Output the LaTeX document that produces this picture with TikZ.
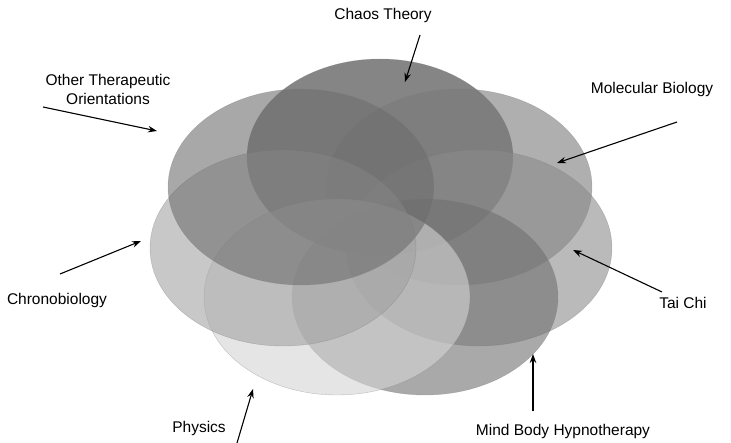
\documentclass[tikz,border=0pt]{standalone}
\usepackage{fontspec}
\setmainfont{Liberation Sans}
\usetikzlibrary{arrows.meta,positioning,shapes.geometric}
\tikzset{
    blob/.style={ellipse,draw=gray,draw opacity=0.45,thin,inner sep=0pt,outer sep=0pt,
                 minimum width=266pt,minimum height=196pt,fill opacity=0.6},
    tag/.style={font=\fontsize{15.5}{19}\selectfont,align=center,inner sep=0pt},
    pre/.style={-{Stealth[length=9pt,width=6.5pt]},line width=1.1pt}
}

\begin{document}
\begin{tikzpicture}[x=1pt,y=-1pt]
    \useasboundingbox (0,0) rectangle (731,443);

    % the seven fields, first one at the bottom
    \node[blob,fill=black!80] (chaos)     at (380,157) {};
    \node[blob,fill=black!52] (molecular) at (459,187) {};
    \node[blob,fill=black!45] (taichi)    at (479,248) {};
    \node[blob,fill=black!56] (mindbody)  at (425,297) {};
    \node[blob,fill=black!17] (physics)   at (337,297) {};
    \node[blob,fill=black!36] (chrono)    at (283,248) {};
    \node[blob,fill=black!57] (other)     at (301,187) {};

    % labels
    \node[tag] (chaos label)     at (383,15)  {Chaos Theory};
    \node[tag] (other label)     at (108,89)  {Other Therapeutic\\Orientations};
    \node[tag] (molecular label) at (652,89)  {Molecular Biology};
    \node[tag] (chrono label)    at (57,300)  {Chronobiology};
    \node[tag] (taichi label)    at (683,303) {Tai Chi};
    \node[tag] (physics label)   at (199,428) {Physics};
    \node[tag] (mindbody label)  at (563,431) {Mind Body Hypnotherapy};

    % arrow ends
    \coordinate (chaos tail)     at (420,35);
    \coordinate (chaos head)     at (405,82);
    \coordinate (other tail)     at (43,107);
    \coordinate (other head)     at (157,131);
    \coordinate (molecular tail) at (677,122);
    \coordinate (molecular head) at (557,163);
    \coordinate (chrono tail)    at (60,274);
    \coordinate (chrono head)    at (141,241);
    \coordinate (taichi tail)    at (662,292);
    \coordinate (taichi head)    at (573,250);
    \coordinate (physics tail)   at (237,443);
    \coordinate (physics head)   at (253,389);
    \coordinate (mindbody tail)  at (533,411);
    \coordinate (mindbody head)  at (533,354);

    \draw[pre] (chaos tail) -- (chaos head);
    \draw[pre] (other tail) -- (other head);
    \draw[pre] (molecular tail) -- (molecular head);
    \draw[pre] (chrono tail) -- (chrono head);
    \draw[pre] (taichi tail) -- (taichi head);
    \draw[pre] (physics tail) -- (physics head);
    \draw[pre] (mindbody tail) -- (mindbody head);
\end{tikzpicture}
\end{document}
